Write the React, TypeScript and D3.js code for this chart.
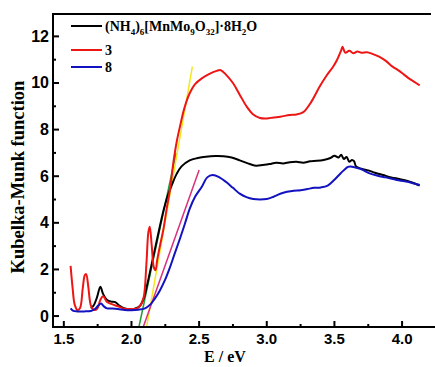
import React from "react";
import * as d3 from "d3";

// ---- data ----
const blackE = [1.70,1.72,1.745,1.77,1.79,1.82,1.85,1.88,1.91,1.95,2.0,2.03,2.06,2.09,2.12,2.15,2.18,2.21,2.24,2.27,2.30,2.334,2.37,2.43,2.49,2.55,2.62,2.68,2.74,2.8,2.86,2.92,2.97,3.02,3.07,3.12,3.17,3.22,3.27,3.32,3.37,3.42,3.47,3.5,3.53,3.55,3.57,3.59,3.61,3.63,3.645,3.66,3.7,3.75,3.8,3.86,3.92,3.98,4.04,4.09,4.13];
const blackV = [0.33,0.45,0.8,1.26,0.95,0.69,0.62,0.6,0.45,0.33,0.3,0.33,0.42,0.75,1.45,2.25,3.05,3.85,4.6,5.2,5.65,6.1,6.42,6.68,6.78,6.84,6.87,6.86,6.8,6.68,6.55,6.45,6.48,6.52,6.58,6.55,6.6,6.62,6.58,6.64,6.66,6.7,6.78,6.88,6.8,6.92,6.74,6.82,6.62,6.7,6.65,6.42,6.32,6.25,6.15,6.05,5.95,5.88,5.8,5.7,5.6];

const redE = [1.55,1.565,1.58,1.6,1.62,1.64,1.655,1.665,1.68,1.70,1.72,1.745,1.77,1.79,1.82,1.86,1.9,1.94,2.0,2.04,2.065,2.09,2.11,2.125,2.135,2.15,2.165,2.178,2.19,2.21,2.235,2.26,2.284,2.31,2.335,2.358,2.39,2.43,2.47,2.52,2.58,2.63,2.66,2.70,2.75,2.8,2.85,2.9,2.95,3.0,3.05,3.1,3.17,3.22,3.27,3.33,3.39,3.44,3.49,3.52,3.55,3.56,3.58,3.61,3.64,3.67,3.7,3.74,3.78,3.83,3.88,3.93,3.97,4.01,4.05,4.09,4.13];
const redV = [2.15,1.2,0.5,0.26,0.35,1.2,1.75,1.8,1.3,0.45,0.27,0.3,0.69,0.85,0.6,0.5,0.42,0.33,0.3,0.33,0.45,0.8,2.2,3.6,3.83,3.0,2.1,1.97,2.4,3.0,3.69,4.6,5.4,6.6,7.5,8.12,8.9,9.56,9.95,10.2,10.4,10.52,10.55,10.35,10.0,9.5,9.0,8.65,8.5,8.48,8.52,8.55,8.63,8.65,8.75,9.2,9.84,10.3,10.7,11.0,11.4,11.55,11.3,11.38,11.28,11.35,11.3,11.32,11.25,11.13,10.95,10.7,10.55,10.38,10.2,10.05,9.9];

const blueE = [1.55,1.57,1.6,1.65,1.7,1.73,1.755,1.775,1.795,1.82,1.86,1.9,1.95,2.0,2.05,2.1,2.14,2.174,2.21,2.248,2.285,2.32,2.36,2.396,2.43,2.47,2.52,2.56,2.6,2.65,2.7,2.75,2.8,2.85,2.9,2.95,3.0,3.05,3.1,3.15,3.2,3.25,3.3,3.35,3.4,3.45,3.5,3.55,3.6,3.62,3.65,3.7,3.76,3.82,3.88,3.96,4.02,4.08,4.13];
const blueV = [0.33,0.22,0.2,0.2,0.22,0.3,0.45,0.54,0.42,0.33,0.32,0.3,0.26,0.25,0.27,0.33,0.5,0.76,1.1,1.55,2.1,2.69,3.35,3.98,4.6,5.12,5.55,5.95,6.05,5.95,5.75,5.5,5.25,5.1,5.02,5.0,5.02,5.12,5.25,5.33,5.38,5.4,5.45,5.5,5.52,5.6,5.85,6.15,6.4,6.42,6.38,6.3,6.12,6.02,5.95,5.84,5.78,5.7,5.62];

// tangent lines [E0, v0, E1, v1]
const greenLine = [2.055, -0.47, 2.33, 7.0];
const yellowLine = [2.112, -0.47, 2.45, 10.7];
const magentaLine = [2.087, -0.47, 2.5, 6.27];

const xTicks = [1.5, 2.0, 2.5, 3.0, 3.5, 4.0];
const xMinor = [1.75, 2.25, 2.75, 3.25, 3.75];
const yTicks = [0, 2, 4, 6, 8, 10, 12];
const yMinor = [1, 3, 5, 7, 9, 11];

const W = 435, H = 367;
const L = 53, R = 431, T = 14, B = 327;

export default function App() {
  const x = d3.scaleLinear().domain([1.42, 4.2]).range([L, L + 2.78 * 135.3]);
  const y = d3.scaleLinear().domain([-0.47, 12.96]).range([B, T]);
  const line = d3.line<[number, number]>().x(d => x(d[0])).y(d => y(d[1])).curve(d3.curveCatmullRom.alpha(0.5));
  const mk = (es: number[], vs: number[]) => line(es.map((e, i) => [e, vs[i]] as [number, number])) || "";
  const seg = (s: number[]) => `M${x(s[0])},${y(s[1])}L${x(s[2])},${y(s[3])}`;
  const tickFont = { fontFamily: "'Liberation Sans', Arial, sans-serif", fontWeight: 700, fontSize: 15 } as const;
  const serif = { fontFamily: "'Liberation Serif', 'Times New Roman', serif", fontWeight: 700 } as const;
  return (
    <svg width={W} height={H} style={{ position: "absolute", left: 0, top: 0, background: "#fff" }}>
      <rect x={0} y={0} width={W} height={H} fill="#fff" />
      <defs>
        <clipPath id="plot"><rect x={L} y={T} width={R - L} height={B - T} /></clipPath>
      </defs>
      <g clipPath="url(#plot)" fill="none" strokeLinejoin="round">
        <path d={seg(greenLine)} stroke="#1f9a3a" strokeWidth={1.5} />
        <path d={seg(yellowLine)} stroke="#f4e81c" strokeWidth={1.5} />
        <path d={seg(magentaLine)} stroke="#d8307a" strokeWidth={1.5} />
        <path d={mk(blackE, blackV)} stroke="#000" strokeWidth={2} />
        <path d={mk(redE, redV)} stroke="#ee1515" strokeWidth={2} />
        <path d={mk(blueE, blueV)} stroke="#1212c0" strokeWidth={2} />
      </g>
      {/* frame */}
      <line x1={L} y1={T} x2={R} y2={T} stroke="#000" strokeWidth={2} />
      <line x1={L} y1={T - 1} x2={L} y2={B + 1} stroke="#000" strokeWidth={2} />
      <line x1={L - 1} y1={B} x2={W} y2={B} stroke="#000" strokeWidth={2} />
      {xTicks.map(t => (
        <g key={"xt" + t}>
          <line x1={x(t)} x2={x(t)} y1={B} y2={B - 6} stroke="#000" strokeWidth={2} />
          <text x={x(t)} y={344} textAnchor="middle" style={tickFont}>{t.toFixed(1)}</text>
        </g>
      ))}
      {xMinor.map(t => (
        <line key={"xm" + t} x1={x(t)} x2={x(t)} y1={B} y2={B - 3} stroke="#000" strokeWidth={2} />
      ))}
      {yTicks.map(t => (
        <g key={"yt" + t}>
          <line x1={L} x2={L + 6} y1={y(t)} y2={y(t)} stroke="#000" strokeWidth={2} />
          <text x={49} y={y(t) + 5.5} textAnchor="end" style={{ ...tickFont, fontSize: 16 }}>{t}</text>
        </g>
      ))}
      {yMinor.map(t => (
        <line key={"ym" + t} x1={L} x2={L + 3} y1={y(t)} y2={y(t)} stroke="#000" strokeWidth={2} />
      ))}
      <text x={225} y={362} textAnchor="middle" style={{ ...serif, fontSize: 16 }}>E / eV</text>
      <text transform="translate(24,177) rotate(-90)" textAnchor="middle" style={{ ...serif, fontSize: 18.5 }}>Kubelka-Munk function</text>
      {/* legend */}
      <line x1={71} x2={102} y1={26} y2={26} stroke="#000" strokeWidth={2} />
      <line x1={71} x2={102} y1={50} y2={50} stroke="#ee1515" strokeWidth={2} />
      <line x1={71} x2={102} y1={67} y2={67} stroke="#1212c0" strokeWidth={2} />
      <text x={105} y={30.5} style={{ ...serif, fontSize: 14 }}>
        (NH<tspan fontSize={9} dy={4}>4</tspan><tspan dy={-4}>)</tspan><tspan fontSize={9} dy={4}>6</tspan><tspan dy={-4}>[MnMo</tspan><tspan fontSize={9} dy={4}>9</tspan><tspan dy={-4}>O</tspan><tspan fontSize={9} dy={4}>32</tspan><tspan dy={-4}>]·8H</tspan><tspan fontSize={9} dy={4}>2</tspan><tspan dy={-4}>O</tspan>
      </text>
      <text x={105} y={54.5} style={{ ...serif, fontSize: 14 }}>3</text>
      <text x={105} y={71.5} style={{ ...serif, fontSize: 14 }}>8</text>
    </svg>
  );
}
